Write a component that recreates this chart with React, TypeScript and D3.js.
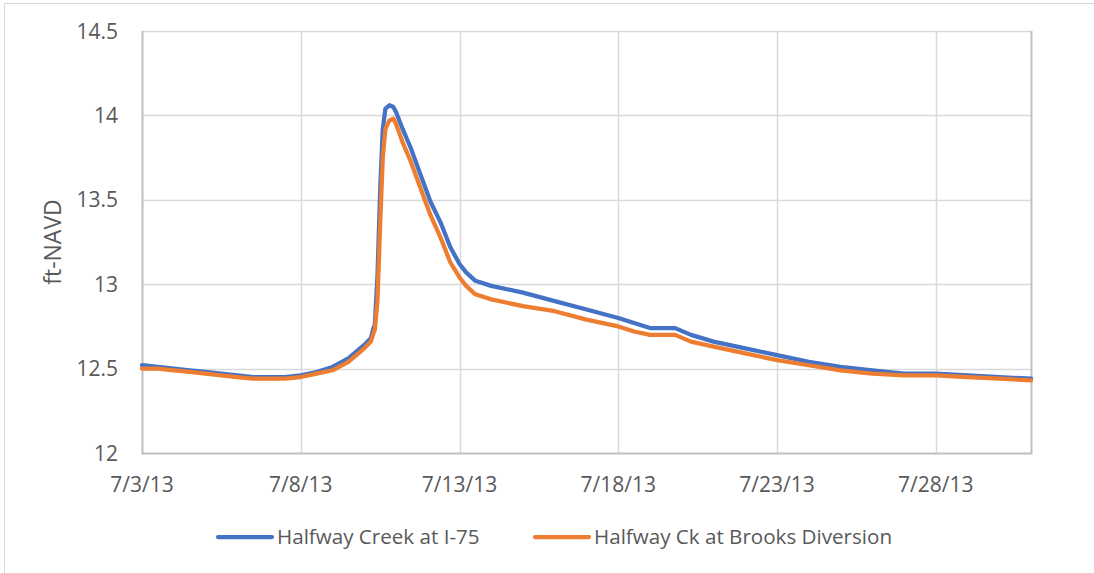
import { useRef, useEffect } from 'react'
import * as d3 from 'd3'

// readings (local time)
const times = [
  '2013-07-03T00:00', '2013-07-03T12:00', '2013-07-04T00:00', '2013-07-04T12:00',
  '2013-07-05T00:00', '2013-07-05T12:00', '2013-07-06T00:00', '2013-07-06T12:00',
  '2013-07-07T00:00', '2013-07-07T12:00', '2013-07-08T00:00', '2013-07-08T12:00',
  '2013-07-09T00:00', '2013-07-09T12:00', '2013-07-09T18:00', '2013-07-10T00:00',
  '2013-07-10T05:00', '2013-07-10T07:00', '2013-07-10T08:00', '2013-07-10T10:00',
  '2013-07-10T12:00', '2013-07-10T14:00', '2013-07-10T16:00', '2013-07-10T19:00',
  '2013-07-10T22:00', '2013-07-11T00:00', '2013-07-11T05:00', '2013-07-11T11:00',
  '2013-07-11T18:00', '2013-07-12T02:00', '2013-07-12T10:00', '2013-07-12T17:00',
  '2013-07-13T00:00', '2013-07-13T05:00', '2013-07-13T12:00', '2013-07-14T00:00',
  '2013-07-15T00:00', '2013-07-16T00:00', '2013-07-17T00:00', '2013-07-18T00:00',
  '2013-07-18T12:00', '2013-07-19T00:00', '2013-07-19T19:00', '2013-07-20T07:00',
  '2013-07-21T00:00', '2013-07-22T00:00', '2013-07-23T00:00', '2013-07-24T00:00',
  '2013-07-25T00:00', '2013-07-26T00:00', '2013-07-27T00:00', '2013-07-28T00:00',
  '2013-07-29T00:00', '2013-07-30T00:00', '2013-07-31T00:00',
]

const i75 = [
  12.52, 12.51, 12.50, 12.49, 12.48, 12.47, 12.46, 12.45,
  12.45, 12.45, 12.46, 12.48, 12.51, 12.56, 12.60, 12.64,
  12.68, 12.74, 12.76, 13.05, 13.55, 13.92, 14.04, 14.06,
  14.05, 14.02, 13.92, 13.81, 13.66, 13.49, 13.36, 13.22,
  13.12, 13.07, 13.02, 12.99, 12.95, 12.90, 12.85, 12.80,
  12.77, 12.74, 12.74, 12.70, 12.66, 12.62, 12.58, 12.54,
  12.51, 12.49, 12.47, 12.47, 12.46, 12.45, 12.44,
]

const brooks = [
  12.50, 12.50, 12.49, 12.48, 12.47, 12.46, 12.45, 12.44,
  12.44, 12.44, 12.45, 12.47, 12.49, 12.54, 12.58, 12.62,
  12.66, 12.71, 12.73, 12.90, 13.35, 13.75, 13.92, 13.97,
  13.98, 13.95, 13.84, 13.73, 13.58, 13.41, 13.27, 13.13,
  13.04, 12.99, 12.94, 12.91, 12.87, 12.84, 12.79, 12.75,
  12.72, 12.70, 12.70, 12.66, 12.63, 12.59, 12.55, 12.52,
  12.49, 12.47, 12.46, 12.46, 12.45, 12.44, 12.43,
]

const yTicks = [12, 12.5, 13, 13.5, 14, 14.5]
const xTicks = ['2013-07-03', '2013-07-08', '2013-07-13', '2013-07-18', '2013-07-23', '2013-07-28']
const seriesNames = ['Halfway Creek at I-75', 'Halfway Ck at Brooks Diversion']
const colors = ['#4472C4', '#ED7D31']

const W = 1094
const H = 573
const FONT = "'Open Sans', 'Liberation Sans', sans-serif"
const TEXT = '#595959'

export default function App() {
  const svgRef = useRef<SVGSVGElement>(null)

  useEffect(() => {
    if (!svgRef.current) return
    const svg = d3.select(svgRef.current)
    svg.selectAll('*').remove()

    const margin = { top: 31, right: 63, bottom: 120, left: 142 }
    const w = W - margin.left - margin.right
    const h = H - margin.top - margin.bottom

    const parse = d3.timeParse('%Y-%m-%dT%H:%M')
    const parseDay = d3.timeParse('%Y-%m-%d')
    const dates = times.map(t => parse(t)!)

    const x = d3.scaleTime()
      .domain([parseDay('2013-07-03')!, parseDay('2013-07-31')!])
      .range([0, w])
    const y = d3.scaleLinear().domain([12, 14.5]).range([h, 0])

    // outer chart frame (only top/left edges fall inside the picture)
    svg.append('path')
      .attr('d', `M4.5,${H} V3.5 H${W}`)
      .attr('fill', 'none')
      .attr('stroke', '#d9d9d9')

    const g = svg.append('g').attr('transform', `translate(${margin.left},${margin.top})`)

    // horizontal gridlines
    g.selectAll('.hgrid')
      .data(yTicks.filter(t => t > 12))
      .join('line')
      .attr('x1', 0).attr('x2', w)
      .attr('y1', d => Math.round(y(d)) + 0.5)
      .attr('y2', d => Math.round(y(d)) + 0.5)
      .attr('stroke', '#d9d9d9')
      .attr('stroke-width', 1.5)

    // vertical gridlines
    const xt = xTicks.map(t => parseDay(t)!)
    g.selectAll('.vgrid')
      .data(xt.slice(1))
      .join('line')
      .attr('x1', d => Math.round(x(d)) + 0.5)
      .attr('x2', d => Math.round(x(d)) + 0.5)
      .attr('y1', 0).attr('y2', h)
      .attr('stroke', '#d9d9d9')
      .attr('stroke-width', 1.5)

    // plot frame: left, bottom, right
    g.append('path')
      .attr('d', `M0.5,0 V${h + 0.5} H${w + 0.5} V0`)
      .attr('fill', 'none')
      .attr('stroke', '#bfbfbf')
      .attr('stroke-width', 2)

    // y tick labels
    g.selectAll('.ylab')
      .data(yTicks)
      .join('text')
      .attr('x', -24)
      .attr('y', d => y(d))
      .attr('dy', '0.36em')
      .attr('text-anchor', 'end')
      .attr('fill', TEXT)
      .attr('font-size', '21px')
      .attr('font-family', FONT)
      .text(d => String(d))

    // x tick labels
    g.selectAll('.xlab')
      .data(xt)
      .join('text')
      .attr('x', d => x(d))
      .attr('y', h + 39)
      .attr('text-anchor', 'middle')
      .attr('fill', TEXT)
      .attr('font-size', '21px')
      .attr('font-family', FONT)
      .text(d => d3.timeFormat('%-m/%-d/%y')(d))

    // y axis title
    svg.append('text')
      .attr('transform', `translate(61,${margin.top + h / 2}) rotate(-90)`)
      .attr('text-anchor', 'middle')
      .attr('fill', TEXT)
      .attr('font-size', '23px')
      .attr('font-family', FONT)
      .text('ft-NAVD')

    // lines
    const line = d3.line<number>()
      .x((_, i) => x(dates[i]))
      .y(d => y(d))

    ;[i75, brooks].forEach((vals, k) => {
      g.append('path')
        .datum(vals)
        .attr('fill', 'none')
        .attr('stroke', colors[k])
        .attr('stroke-width', 4.25)
        .attr('stroke-linejoin', 'round')
        .attr('stroke-linecap', 'round')
        .attr('d', line)
    })

    // legend
    const legendX = [218, 535]
    const legendY = 537
    const lg = svg.append('g')
    seriesNames.forEach((name, k) => {
      lg.append('line')
        .attr('x1', legendX[k]).attr('x2', legendX[k] + 54)
        .attr('y1', legendY).attr('y2', legendY)
        .attr('stroke', colors[k])
        .attr('stroke-width', 4.25)
        .attr('stroke-linecap', 'round')
      lg.append('text')
        .attr('x', legendX[k] + 59)
        .attr('y', legendY)
        .attr('dy', '0.36em')
        .attr('fill', TEXT)
        .attr('font-size', '20.6px')
        .attr('font-family', FONT)
        .text(name)
    })
  }, [])

  return (
    <svg
      ref={svgRef}
      width={W}
      height={H}
      style={{ position: 'absolute', left: 0, top: 0, background: '#fff' }}
    />
  )
}
